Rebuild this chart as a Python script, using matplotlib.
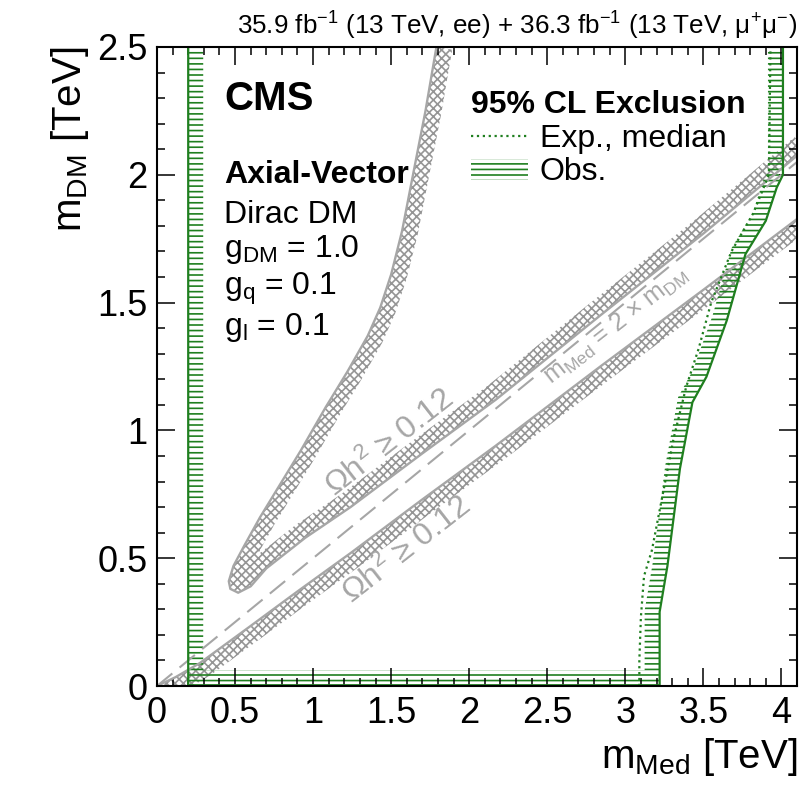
import numpy as np
import matplotlib
matplotlib.use("Agg")
import matplotlib.pyplot as plt
from matplotlib.patches import Polygon, Patch
from matplotlib.lines import Line2D
from matplotlib.ticker import MultipleLocator, FormatStrFormatter

plt.rcParams['font.family'] = ['Liberation Sans', 'DejaVu Sans']
plt.rcParams['mathtext.fontset'] = 'custom'
plt.rcParams['mathtext.rm'] = 'Liberation Sans'
plt.rcParams['mathtext.it'] = 'Liberation Sans:italic'
plt.rcParams['mathtext.bf'] = 'Liberation Sans:bold'
plt.rcParams['mathtext.default'] = 'regular'
plt.rcParams['hatch.linewidth'] = 1.2

# observed 95% CL exclusion contour (hatched on the excluded side)
obs_x = [0.20, 0.20, 3.22, 3.22, 3.27, 3.35, 3.43, 3.52, 3.65, 3.77, 3.90, 3.97, 4.01, 4.01]
obs_y = [2.50, 0.003, 0.003, 0.29, 0.47, 0.85, 1.11, 1.21, 1.43, 1.69, 1.82, 1.95, 2.00, 2.50]

# expected (median) contour, right-hand part
exp_x = [3.09, 3.09, 3.10, 3.12, 3.17, 3.24, 3.31, 3.39, 3.47, 3.55, 3.68, 3.82, 3.92, 3.93]
exp_y = [0.00, 0.10, 0.27, 0.43, 0.53, 0.75, 0.97, 1.17, 1.32, 1.50, 1.70, 1.85, 2.00, 2.50]

# relic density Omega h^2 = 0.12 curves
tongue_x = [1.79, 1.72, 1.64, 1.57, 1.50, 1.43, 1.35, 1.22, 1.08, 0.92, 0.78, 0.66, 0.56, 0.49,
            0.46, 0.47, 0.52, 0.60, 0.70, 0.95, 1.24, 1.70, 2.17, 2.84, 3.50, 4.15]
tongue_y = [2.50, 2.25, 2.00, 1.78, 1.61, 1.48, 1.37, 1.23, 1.09, 0.92, 0.78, 0.66, 0.55, 0.47,
            0.41, 0.38, 0.365, 0.39, 0.46, 0.58, 0.70, 0.91, 1.12, 1.45, 1.77, 2.10]
low_x = [0.00, 0.12, 0.275, 0.60, 0.90, 1.24, 1.70, 2.17, 2.84, 3.50, 4.15]
low_y = [0.00, 0.035, 0.09, 0.235, 0.37, 0.52, 0.73, 0.94, 1.25, 1.55, 1.85]

diag_x = [0.0, 4.1]
diag_y = [0.0, 2.05]

green = '#1f7f1f'
grey = '#a6a6a6'

fig = plt.figure(figsize=(8.02, 7.96), dpi=100)
ax = fig.add_axes([157 / 802, 110 / 796, 640 / 802, 639 / 796])
ax.set_xlim(0, 4.1)
ax.set_ylim(0, 2.5)


def hatch_band(xs, ys, width, side=1):
    # band of fixed pixel width on one side of a contour (ROOT-style hatched line)
    pts = ax.transData.transform(np.column_stack([xs, ys]))
    d = np.diff(pts, axis=0)
    d /= np.hypot(d[:, 0], d[:, 1])[:, None]
    n = np.column_stack([-d[:, 1], d[:, 0]]) * side
    nv = np.empty_like(pts)
    nv[0], nv[-1] = n[0], n[-1]
    m = n[:-1] + n[1:]
    m /= np.hypot(m[:, 0], m[:, 1])[:, None]
    sc = 1.0 / np.clip(np.sum(m * n[1:], axis=1), 0.4, None)
    nv[1:-1] = m * sc[:, None]
    off = ax.transData.inverted().transform(pts + nv * width)
    return np.vstack([np.column_stack([xs, ys]), off[::-1]])


# relic density bands
for xs, ys, side in [(tongue_x, tongue_y, 1), (low_x, low_y, -1)]:
    ax.add_patch(Polygon(hatch_band(xs, ys, 16, side), closed=True, fill=False,
                         hatch='xxxx', edgecolor='#959595', lw=0))
    ax.plot(xs, ys, color=grey, lw=1.7)

ax.plot(diag_x, diag_y, color=grey, lw=1.5, dashes=(9.5, 4.5))

# exclusion
ax.add_patch(Polygon(hatch_band(obs_x, obs_y, 15, 1), closed=True, fill=False,
                     hatch='---', edgecolor=green, lw=0))
ax.plot(exp_x, exp_y, color=green, lw=1.6, ls=':')
ax.plot(obs_x, obs_y, color=green, lw=1.6)

# texts
ax.text(0.105, 0.901, 'CMS', transform=ax.transAxes, fontsize=29, fontweight='bold')
ax.text(0.105, 0.787, 'Axial-Vector', transform=ax.transAxes, fontsize=23, fontweight='bold')
ax.text(0.105, 0.725, 'Dirac DM', transform=ax.transAxes, fontsize=23)
ax.text(0.105, 0.671, 'g$_{DM}$ = 1.0', transform=ax.transAxes, fontsize=23)
ax.text(0.105, 0.612, 'g$_{q}$ = 0.1', transform=ax.transAxes, fontsize=23)
ax.text(0.105, 0.550, 'g$_{l}$ = 0.1', transform=ax.transAxes, fontsize=23)

ax.text(1.49, 0.95, 'Ωh$^{2}$ ≥ 0.12', color=grey, fontsize=23,
        rotation=38, ha='center', va='center', rotation_mode='anchor')
ax.text(1.60, 0.53, 'Ωh$^{2}$ ≥ 0.12', color=grey, fontsize=23,
        rotation=38, ha='center', va='center', rotation_mode='anchor')
ax.text(2.94, 1.41, 'm$_{Med}$ = 2 × m$_{DM}$', color=grey, fontsize=18,
        rotation=38, ha='center', va='center', rotation_mode='anchor')

handles = [Line2D([], [], color=green, ls=':', lw=1.6),
           Patch(facecolor='none', edgecolor=green, hatch='---', lw=0)]
leg = ax.legend(handles, ['Exp., median', 'Obs.'], loc='upper left',
                bbox_to_anchor=(0.49, 0.933), frameon=False, fontsize=23,
                title='95% CL Exclusion', title_fontproperties={'weight': 'bold', 'size': 23},
                alignment='left', handlelength=1.8, handleheight=0.65, handletextpad=0.37,
                borderpad=0, borderaxespad=0, labelspacing=0.12)

ax.set_title('35.9 fb$^{-1}$ (13 TeV, ee) + 36.3 fb$^{-1}$ (13 TeV, $\\mu^{+}\\mu^{-}$)',
             loc='right', fontsize=18.7, pad=9)

ax.set_xlabel('m$_{Med}$ [TeV]', fontsize=29, loc='right')
ax.set_ylabel('m$_{DM}$ [TeV]', fontsize=29, loc='top')

ax.xaxis.set_major_locator(MultipleLocator(0.5))
ax.xaxis.set_minor_locator(MultipleLocator(0.1))
ax.yaxis.set_major_locator(MultipleLocator(0.5))
ax.yaxis.set_minor_locator(MultipleLocator(0.1))
ax.xaxis.set_major_formatter(FormatStrFormatter('%g'))
ax.yaxis.set_major_formatter(FormatStrFormatter('%g'))
ax.tick_params(which='both', direction='in', top=True, right=True, width=1.1, labelsize=26)
ax.tick_params(which='major', length=13, pad=7)
ax.tick_params(which='minor', length=6)
for s in ax.spines.values():
    s.set_linewidth(1.5)

fig.savefig('out.png', dpi=100)
